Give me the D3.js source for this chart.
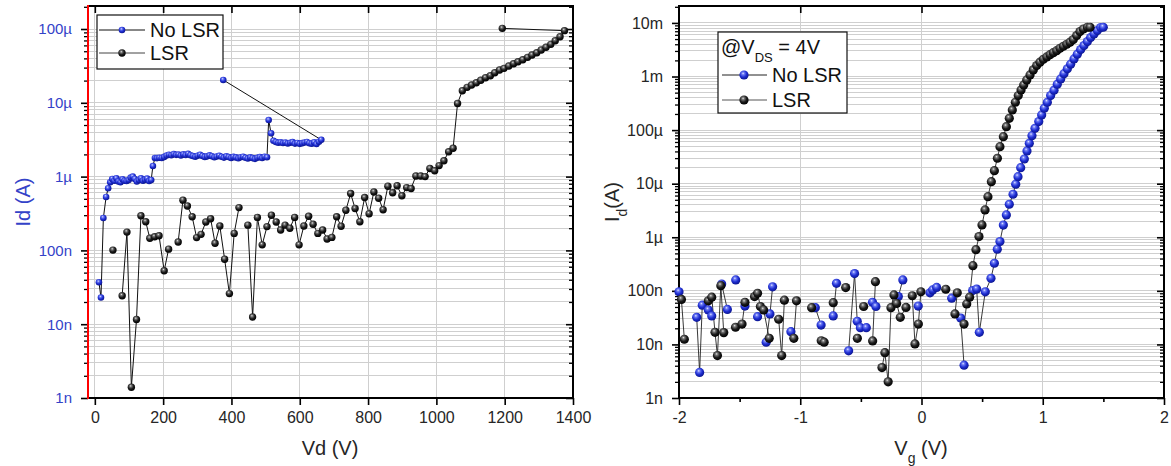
<!DOCTYPE html>
<html><head><meta charset="utf-8">
<script src="https://cdn.jsdelivr.net/npm/d3@7"></script>
<style>
body{margin:0;background:#fff;}
svg{display:block;font-family:"Liberation Sans",Arial,Helvetica,sans-serif;}
</style>
</head><body>
<svg id="c" width="1171" height="466"></svg>
<script>
// ---------------- DATA ----------------
// Left panel: Id vs Vd (breakdown)
const leftXTicks = [0, 200, 400, 600, 800, 1000, 1200, 1400];
const leftYTicks = [1e-9, 1e-8, 1e-7, 1e-6, 1e-5, 1e-4];
const leftYTickLabels = ["1n", "10n", "100n", "1µ", "10µ", "100µ"];

const leftNoLsrV = [12,18,25,33,39,45,51,
  57,63,69,75,81,87,93,99,105,111,117,123,129,135,141,147,153,159,165,
  170,176,
  182,189,196,203,210,217,224,231,238,245,252,259,266,273,280,287,294,301,308,315,322,329,336,343,350,357,364,371,378,385,392,399,406,413,420,427,434,441,448,455,462,469,476,483,490,497,504,
  509,516,523,
  530,537,544,551,558,565,572,579,586,593,600,607,614,621,628,635,642,649,656,663,
  376];
const leftNoLsrI_uA = [0.037,0.023,0.275,0.53,0.695,0.84,0.93,
  0.88,0.95,0.86,0.84,0.92,0.88,0.87,0.90,0.97,1.0,0.93,0.86,0.90,0.95,0.88,0.91,0.94,0.87,0.90,
  1.39,1.79,
  1.78,1.80,1.79,1.85,1.93,1.98,1.95,2.02,1.97,1.99,1.93,2.00,1.96,2.03,1.95,1.90,1.86,1.92,1.98,1.90,1.85,1.88,1.94,1.89,1.83,1.87,1.92,1.86,1.81,1.88,1.84,1.79,1.85,1.82,1.77,1.83,1.86,1.80,1.76,1.82,1.78,1.74,1.80,1.84,1.79,1.86,1.83,
  5.85,3.86,3.06,
  2.95,2.88,2.92,2.85,2.90,2.82,2.87,2.93,2.80,2.86,2.78,2.84,2.90,2.95,2.83,2.79,2.92,2.76,2.97,3.15,
  20.4];

const leftLsrV = [53,66,80,94,107,122,135,149,161,175,188,203,216,230,244,258,271,285,298,311,325,339,352,366,380,394,408,422,435,448,462,476,490,504,517,531,544,557,571,585,598,612,626,639,653,667,680,694,708,721,735,749,762,776,790,803,817,831,844,858,872,885,899,913,926,940,954,967,981,995,1008,1022,1036,1049,1062,1076,1090,1103,1117,1130,1144,1158,1171,1185,1198,1212,1226,1239,1253,1267,1280,1294,1307,1321,1335,1348,1362,1375,1193];
const leftLsrI = [1.01e-7,null,2.43e-8,1.77e-7,1.40e-9,1.16e-8,2.95e-7,2.45e-7,1.46e-7,1.53e-7,1.58e-7,5.3e-8,1.04e-7,null,1.30e-7,4.8e-7,4.0e-7,2.86e-7,1.49e-7,1.65e-7,2.43e-7,2.69e-7,1.25e-7,2.14e-7,7.6e-8,2.6e-8,1.7e-7,3.8e-7,null,2.2e-7,1.25e-8,2.8e-7,1.19e-7,2.1e-7,3.0e-7,2.43e-7,1.89e-7,2.2e-7,2.0e-7,2.8e-7,1.19e-7,2.14e-7,2.9e-7,2.26e-7,1.7e-7,1.89e-7,1.43e-7,1.5e-7,2.86e-7,2.12e-7,3.5e-7,5.9e-7,3.7e-7,2.45e-7,5.2e-7,3.14e-7,6.2e-7,5.1e-7,3.56e-7,7.4e-7,6.05e-7,7.5e-7,5.5e-7,7.1e-7,6.9e-7,1.02e-6,1.02e-6,1.0e-6,1.29e-6,1.2e-6,1.41e-6,1.64e-6,2.17e-6,2.42e-6,9.8e-6,1.46e-5,1.62e-5,1.74e-5,1.87e-5,2.02e-5,2.19e-5,2.33e-5,2.56e-5,2.78e-5,2.93e-5,3.15e-5,3.39e-5,3.6e-5,3.84e-5,4.13e-5,4.44e-5,4.77e-5,5.19e-5,5.65e-5,6.2e-5,6.94e-5,7.87e-5,9.5e-5,1.02e-4];

// Right panel: Id vs Vg transfer @ VDS = 4V
const rightXTicks = [-2, -1, 0, 1, 2];
const rightXTickLabels = ["-2", "-1", "0", "1", "2"];
const rightXMinorTicks = [-1.5, -0.5, 0.5, 1.5];
const rightYTicks = [1e-9, 1e-8, 1e-7, 1e-6, 1e-5, 1e-4, 1e-3, 1e-2];
const rightYTickLabels = ["1n", "10n", "100n", "1µ", "10µ", "100µ", "1m", "10m"];

const rightNoLsrVg = [-2.000,-1.854,-1.830,-1.808,-1.758,-1.730,-1.648,-1.601,-1.532,-1.456,-1.352,-1.281,-1.250,-1.228,-1.077,-0.876,-0.828,-0.728,-0.701,-0.601,-0.552,-0.530,-0.504,-0.455,-0.404,-0.376,-0.191,-0.154,-0.027,0.070,0.092,0.125,0.249,0.323,0.351,0.422,0.455,0.477,0.526,0.573,0.601,0.625,0.647,0.675,0.700,0.724,0.755,0.777,0.796,0.818,0.848,0.870,0.889,0.911,0.936,0.967,0.991,1.013,1.038,1.065,1.093,1.120,1.148,1.175,1.203,1.230,1.258,1.285,1.313,1.340,1.368,1.395,1.423,1.450,1.478,1.499];
const rightNoLsrI = [9.6e-8,3.2e-8,3.0e-9,5.4e-8,4.4e-8,3.4e-8,1.34e-7,4.5e-8,1.6e-7,5.2e-8,3.3e-8,1.1e-8,3.7e-8,1.19e-7,1.73e-8,4.85e-8,2.3e-8,3.4e-8,1.38e-7,7.6e-9,2.1e-7,2.7e-8,2.05e-8,2.05e-8,6.1e-8,5.1e-8,7.8e-8,1.6e-7,5.2e-8,9.2e-8,1.04e-7,1.16e-7,7.3e-8,3.1e-8,4.1e-9,1.01e-7,1.08e-7,1.68e-8,9.6e-8,1.71e-7,3.27e-7,6.0e-7,8.3e-7,1.69e-6,2.61e-6,4.13e-6,6.35e-6,9.8e-6,1.35e-5,1.99e-5,2.89e-5,4.08e-5,5.68e-5,7.87e-5,1.08e-4,1.44e-4,1.92e-4,2.56e-4,3.31e-4,4.4e-4,5.55e-4,7.18e-4,9.0e-4,1.13e-3,1.39e-3,1.70e-3,2.13e-3,2.61e-3,3.18e-3,3.78e-3,4.48e-3,5.32e-3,6.24e-3,7.19e-3,8.18e-3,8.3e-3];

const rightLsrVg = [-1.980,-1.956,-1.758,-1.730,-1.703,-1.683,-1.655,-1.631,-1.534,-1.480,-1.456,-1.377,-1.352,-1.329,-1.302,-1.256,-1.178,-1.153,-1.131,-1.053,-1.031,-0.906,-0.827,-0.803,-0.728,-0.625,-0.529,-0.477,-0.403,-0.380,-0.326,-0.302,-0.275,-0.252,-0.227,-0.205,-0.175,-0.128,-0.076,-0.054,-0.026,-0.005,0.200,0.276,0.295,0.351,0.373,0.397,0.424,0.449,0.474,0.499,0.524,0.548,0.576,0.601,0.626,0.647,0.675,0.700,0.724,0.749,0.774,0.798,0.821,0.843,0.868,0.895,0.922,0.950,0.977,1.005,1.033,1.060,1.087,1.115,1.142,1.170,1.198,1.225,1.252,1.280,1.307,1.335,1.368,1.390];
const rightLsrI = [6.9e-8,1.25e-8,6.5e-8,7.6e-8,1.68e-8,6.2e-9,1.25e-7,1.66e-8,2.09e-8,2.4e-8,6.1e-8,7.8e-8,9.0e-8,5.1e-8,4.4e-8,1.3e-8,2.95e-8,6.2e-9,6.7e-8,1.3e-8,6.5e-8,4.85e-8,1.17e-8,1.1e-8,6.0e-8,1.15e-7,1.3e-8,5.1e-8,1.16e-8,1.48e-7,3.7e-9,7.0e-9,2.0e-9,4.85e-8,8.4e-8,5.8e-8,3.2e-8,4.9e-8,8.1e-8,1.02e-8,2.4e-8,9.6e-8,1.07e-7,3.7e-8,9.2e-8,2.4e-8,5.7e-8,7.6e-8,2.95e-7,5.86e-7,1.03e-6,1.70e-6,3.23e-6,5.73e-6,1.09e-5,1.75e-5,2.98e-5,4.91e-5,7.55e-5,1.16e-4,1.66e-4,2.38e-4,3.31e-4,4.4e-4,5.62e-4,6.97e-4,8.64e-4,1.07e-3,1.33e-3,1.60e-3,1.85e-3,2.1e-3,2.32e-3,2.56e-3,2.79e-3,3.04e-3,3.37e-3,3.67e-3,4.0e-3,4.37e-3,4.89e-3,5.8e-3,6.9e-3,7.7e-3,8.3e-3,8.3e-3];

const seriesNames = ["No LSR", "LSR"];

// ---------------- DRAWING ----------------
const svg = d3.select("#c");
const defs = svg.append("defs");
function sphere(id, stops) {
  const g = defs.append("radialGradient").attr("id", id)
    .attr("cx", "0.42").attr("cy", "0.38").attr("r", "0.62").attr("fx", "0.4").attr("fy", "0.32");
  stops.forEach(s => g.append("stop").attr("offset", s[0]).attr("stop-color", s[1]));
}
sphere("gBlue", [[0, "#e4e8ff"], [0.22, "#6f7df5"], [0.6, "#1f2ed2"], [1, "#0b1590"]]);
sphere("gBlack", [[0, "#e6e6e6"], [0.22, "#777"], [0.6, "#1c1c1c"], [1, "#000"]]);

const TXT = "#262626";
const BLUE_TXT = "#3342c8";

function logGrid(maxExp, maxVal) {
  const out = [];
  for (let e = -9; e <= maxExp; e++) for (let m = 1; m <= 9; m++) {
    const v = m * Math.pow(10, e);
    if (v <= maxVal * 1.0001) out.push(v);
  }
  return out;
}

function drawPanel(p) {
  const g = svg.append("g");
  const x = p.x, y = p.y;
  const [x0, x1] = x.range(), [y0, y1] = y.range(); // y0 bottom, y1 top
  const minor = logGrid(p.maxExp, y.domain()[1]);
  // gridlines
  g.append("g").selectAll("line").data(minor).join("line")
    .attr("x1", x0).attr("x2", x1).attr("y1", d => y(d)).attr("y2", d => y(d))
    .attr("stroke", "#cfcfcf").attr("stroke-width", 1).attr("shape-rendering", "crispEdges");
  g.append("g").selectAll("line").data(p.xGrid).join("line")
    .attr("x1", d => x(d)).attr("x2", d => x(d)).attr("y1", y0).attr("y2", y1)
    .attr("stroke", "#cfcfcf").attr("stroke-width", 1).attr("shape-rendering", "crispEdges");

  // axes
  const styleAxis = (sel) => { sel.selectAll("text").remove(); };
  // minor y ticks (left outward, right inward)
  const minorOnly = minor.filter(v => !p.yTicks.some(t => Math.abs(t - v) / t < 1e-6));
  g.append("g").attr("transform", `translate(${x0},0)`)
    .call(d3.axisLeft(y).tickValues(minorOnly).tickSize(4).tickFormat(""))
    .call(s => s.select(".domain").remove()).selectAll("line").attr("stroke", "#000").attr("stroke-width", 1.3);
  g.append("g").attr("transform", `translate(${x1},0)`)
    .call(d3.axisRight(y).tickValues(minorOnly).tickSize(-4).tickFormat(""))
    .call(s => s.select(".domain").remove()).selectAll("line").attr("stroke", "#000").attr("stroke-width", 1.3);
  // major y ticks
  const yl = g.append("g").attr("transform", `translate(${x0},0)`)
    .call(d3.axisLeft(y).tickValues(p.yTicks).tickSize(7).tickPadding(9).tickFormat((d, i) => p.yLabels[i]));
  yl.select(".domain").remove();
  yl.selectAll("line").attr("stroke", "#000").attr("stroke-width", 1.6);
  yl.selectAll("text").attr("fill", p.yLabelColor).style("font-size", p.yFont + "px").attr("font-family", null);
  const yr = g.append("g").attr("transform", `translate(${x1},0)`)
    .call(d3.axisRight(y).tickValues(p.yTicks).tickSize(-7).tickFormat(""));
  yr.select(".domain").remove();
  yr.selectAll("line").attr("stroke", "#000").attr("stroke-width", 1.6);

  // x ticks bottom / top
  const xb = g.append("g").attr("transform", `translate(0,${y0})`)
    .call(d3.axisBottom(x).tickValues(p.xTicks).tickSize(7).tickPadding(7).tickFormat((d, i) => p.xLabels[i]));
  xb.select(".domain").remove();
  xb.selectAll("line").attr("stroke", "#000").attr("stroke-width", 1.6);
  xb.selectAll("text").attr("fill", TXT).style("font-size", "16px").attr("font-family", null);
  if (p.xMinor) {
    const xm = g.append("g").attr("transform", `translate(0,${y0})`)
      .call(d3.axisBottom(x).tickValues(p.xMinor).tickSize(4).tickFormat(""));
    xm.select(".domain").remove();
    xm.selectAll("line").attr("stroke", "#000").attr("stroke-width", 1.6);
  }
  const xt = g.append("g").attr("transform", `translate(0,${y1})`)
    .call(d3.axisTop(x).tickValues(p.xTopTicks).tickSize(-7).tickFormat(""));
  xt.select(".domain").remove();
  xt.selectAll("line").attr("stroke", "#000").attr("stroke-width", 1.6);

  // frame
  g.append("line").attr("x1", x0).attr("x2", x1 + 1).attr("y1", y1).attr("y2", y1).attr("stroke", "#000").attr("stroke-width", 2);
  g.append("line").attr("x1", x0).attr("x2", x1 + 1).attr("y1", y0).attr("y2", y0).attr("stroke", "#000").attr("stroke-width", 2);
  g.append("line").attr("x1", x1).attr("x2", x1).attr("y1", y1).attr("y2", y0).attr("stroke", "#000").attr("stroke-width", 2);
  g.append("line").attr("x1", x0).attr("x2", x0).attr("y1", y1 - 1).attr("y2", y0 + 1)
    .attr("stroke", p.leftAxisColor).attr("stroke-width", 2);
  return g;
}

function drawSeries(g, x, y, xs, ys, opt) {
  const pts = [];
  xs.forEach((v, i) => {
    const iv = ys[i];
    if (iv === null) { pts.push(null); return; }
    if (opt.gap && i > 0 && pts.length && pts[pts.length - 1] && Math.abs(v - pts[pts.length - 1].x) > opt.gap) pts.push(null);
    pts.push({ x: v, y: iv });
  });
  const line = d3.line().defined(d => d !== null).x(d => x(d.x)).y(d => y(d.y));
  g.append("path").datum(pts).attr("d", line).attr("fill", "none")
    .attr("stroke", opt.lineColor).attr("stroke-width", opt.lineWidth);
  return pts.filter(d => d !== null);
}
function drawMarkers(g, x, y, pts, fill, r) {
  g.append("g").selectAll("circle").data(pts).join("circle")
    .attr("cx", d => x(d.x)).attr("cy", d => y(d.y)).attr("r", r).attr("fill", fill);
}

// ----- Left panel -----
const xL = d3.scaleLinear().domain([-20, 1400]).range([88, 573]);
const yL = d3.scaleLog().domain([1e-9, 2.05e-4]).range([398, 6]);
const gL = drawPanel({
  x: xL, y: yL, maxExp: -4, yTicks: leftYTicks, yLabels: leftYTickLabels, yLabelColor: BLUE_TXT, yFont: 15,
  xTicks: leftXTicks, xLabels: leftXTicks.map(String), xGrid: leftXTicks.slice(0, -1), xTopTicks: leftXTicks.slice(0, -1),
  leftAxisColor: "#ff0000"
});
const lb = drawSeries(gL, xL, yL, leftNoLsrV, leftNoLsrI_uA.map(v => v * 1e-6), { lineColor: "#111", lineWidth: 1 });
const lk = drawSeries(gL, xL, yL, leftLsrV, leftLsrI, { lineColor: "#111", lineWidth: 1 });
drawMarkers(gL, xL, yL, lb, "url(#gBlue)", 3.3);
drawMarkers(gL, xL, yL, lk, "url(#gBlack)", 3.7);

// left titles
svg.append("text").attr("transform", "translate(30,202) rotate(-90)").attr("text-anchor", "middle")
  .attr("fill", BLUE_TXT).style("font-size", "20px").text("Id (A)");
svg.append("text").attr("x", 330).attr("y", 455).attr("text-anchor", "middle")
  .attr("fill", TXT).style("font-size", "20px").text("Vd (V)");

// left legend
const legL = svg.append("g");
legL.append("rect").attr("x", 97).attr("y", 15).attr("width", 126).attr("height", 54)
  .attr("fill", "#fff").attr("stroke", "#111").attr("stroke-width", 1.2);
[[30, "url(#gBlue)", "#111", 3.3], [53, "url(#gBlack)", "#444", 3.7]].forEach((r, i) => {
  legL.append("line").attr("x1", 99).attr("x2", 145).attr("y1", r[0]).attr("y2", r[0]).attr("stroke", r[2]).attr("stroke-width", 1);
  legL.append("circle").attr("cx", 122).attr("cy", r[0]).attr("r", r[3]).attr("fill", r[1]);
  legL.append("text").attr("x", 150).attr("y", r[0] + 7).attr("fill", "#111").style("font-size", "20px").text(seriesNames[i]);
});

// ----- Right panel -----
const xR = d3.scaleLinear().domain([-2, 2]).range([679, 1164]);
const yR = d3.scaleLog().domain([1e-9, 2.07e-2]).range([398, 6]);
const gR = drawPanel({
  x: xR, y: yR, maxExp: -2, yTicks: rightYTicks, yLabels: rightYTickLabels, yLabelColor: TXT, yFont: 16,
  xTicks: rightXTicks, xLabels: rightXTickLabels, xMinor: rightXMinorTicks, xGrid: [-1, 0, 1], xTopTicks: [-1, 0, 1],
  leftAxisColor: "#000"
});
const rb = drawSeries(gR, xR, yR, rightNoLsrVg, rightNoLsrI, { lineColor: "#222", lineWidth: 0.9, gap: 0.05 });
const rk = drawSeries(gR, xR, yR, rightLsrVg, rightLsrI, { lineColor: "#222", lineWidth: 0.9, gap: 0.05 });
drawMarkers(gR, xR, yR, rb, "url(#gBlue)", 4.6);
drawMarkers(gR, xR, yR, rk, "url(#gBlack)", 4.6);

// right titles
const tyR = svg.append("text").attr("transform", "translate(619,202) rotate(-90)").attr("text-anchor", "middle")
  .attr("fill", TXT).style("font-size", "20px");
tyR.append("tspan").text("I");
tyR.append("tspan").attr("baseline-shift", "sub").style("font-size", "14px").text("d");
tyR.append("tspan").text("(A)");
const txR = svg.append("text").attr("x", 921).attr("y", 455).attr("text-anchor", "middle")
  .attr("fill", TXT).style("font-size", "20px");
txR.append("tspan").text("V");
txR.append("tspan").attr("baseline-shift", "sub").style("font-size", "14px").text("g");
txR.append("tspan").text(" (V)");

// right legend
const legR = svg.append("g");
legR.append("rect").attr("x", 718).attr("y", 32).attr("width", 129).attr("height", 81)
  .attr("fill", "#fff").attr("stroke", "#111").attr("stroke-width", 1.2);
const hdr = legR.append("text").attr("x", 721).attr("y", 54).attr("fill", "#111").style("font-size", "20px");
hdr.append("tspan").text("@V");
hdr.append("tspan").attr("baseline-shift", "sub").style("font-size", "13px").text("DS");
hdr.append("tspan").text(" = 4V");
[[75, "url(#gBlue)", "#222"], [100, "url(#gBlack)", "#555"]].forEach((r, i) => {
  legR.append("line").attr("x1", 722).attr("x2", 767).attr("y1", r[0]).attr("y2", r[0]).attr("stroke", r[2]).attr("stroke-width", 1);
  legR.append("circle").attr("cx", 744).attr("cy", r[0]).attr("r", 4.6).attr("fill", r[1]);
  legR.append("text").attr("x", 772).attr("y", r[0] + 7).attr("fill", "#111").style("font-size", "20px").text(seriesNames[i]);
});
</script>
</body></html>
